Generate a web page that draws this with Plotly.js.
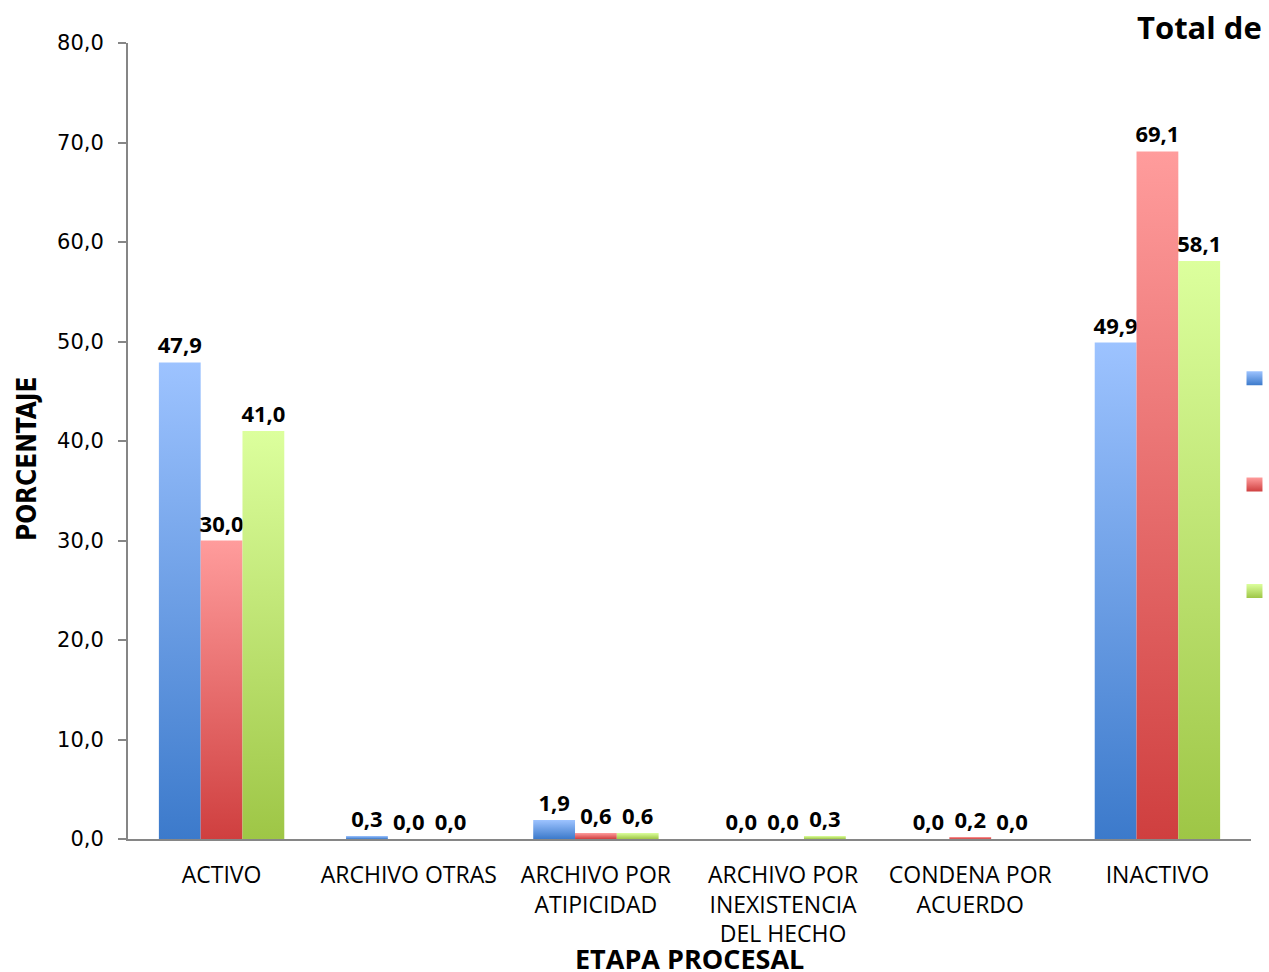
<!DOCTYPE html>
<html>
<head>
<meta charset="utf-8">
<script src="https://cdn.plot.ly/plotly-3.0.1.min.js"></script>
<style>html,body{margin:0;padding:0;background:#fff;overflow:hidden}#chart{width:1269px;height:972px}</style>
</head>
<body>
<div id="chart"></div>
<script>
const categories = ['ACTIVO','ARCHIVO OTRAS','ARCHIVO POR ATIPICIDAD','ARCHIVO POR INEXISTENCIA DEL HECHO','CONDENA POR ACUERDO','INACTIVO'];
const tickLabels = ['ACTIVO','ARCHIVO OTRAS','ARCHIVO POR<br>ATIPICIDAD','ARCHIVO POR<br>INEXISTENCIA<br>DEL HECHO','CONDENA POR<br>ACUERDO','INACTIVO'];
const seriesNames = ['Serie 1','Serie 2','Serie 3'];
const serie1 = [47.9, 0.3, 1.9, 0.0, 0.0, 49.9];
const serie2 = [30.0, 0.0, 0.6, 0.0, 0.2, 69.1];
const serie3 = [41.0, 0.0, 0.6, 0.3, 0.0, 58.1];
const yTicks = [0,10,20,30,40,50,60,70,80];

const colors = [
  {mid:'#6f9fe6', top:'#9dc3ff', bottom:'#3c7acb'},
  {mid:'#e87474', top:'#ff9c9c', bottom:'#cf3f3f'},
  {mid:'#c3e07a', top:'#dcff9d', bottom:'#9ec646'}
];
const FONT = 'Open Sans, Lato, sans-serif';
const allSeries = [serie1, serie2, serie3];

const data = allSeries.map((vals, i) => ({
  type: 'bar',
  name: seriesNames[i],
  x: categories,
  y: vals,
  marker: {color: colors[i].mid},
  texttemplate: '<b>%{y:.1f}</b>',
  textposition: 'outside',
  constraintext: 'none',
  cliponaxis: false,
  textfont: {family: FONT, size: 22, color: '#000'},
  legendgroup: 'g' + i,
  hoverinfo: 'x+y+name'
}));

const layout = {
  width: 1269, height: 972,
  margin: {l: 128, r: 18, t: 43, b: 133, autoexpand: false},
  paper_bgcolor: '#fff', plot_bgcolor: '#fff',
  separators: ',.',
  barmode: 'group',
  bargap: 0.33,
  bargroupgap: 0,
  font: {family: FONT, size: 20, color: '#000'},
  title: {
    text: '<b>Total de</b>',
    font: {family: FONT, size: 31, color: '#000'},
    xref: 'container', yref: 'container',
    x: 1137/1269, xanchor: 'left',
    y: 1 - 28/972, yanchor: 'middle'
  },
  xaxis: {
    type: 'category',
    tickvals: categories,
    ticktext: tickLabels,
    tickfont: {family: FONT, size: 23, color: '#000'},
    ticklabelstandoff: 14,
    showline: true, linecolor: '#868686', linewidth: 2,
    ticks: '', showgrid: false, zeroline: false,
    automargin: false
  },
  yaxis: {
    range: [0, 80],
    tickvals: yTicks,
    tickformat: '.1f',
    tickfont: {family: 'DejaVu Sans, sans-serif', size: 21, color: '#000'},
    ticklabelstandoff: 10,
    showline: true, linecolor: '#868686', linewidth: 2,
    ticks: 'outside', ticklen: 8, tickcolor: '#868686', tickwidth: 2,
    showgrid: false, zeroline: false,
    automargin: false
  },
  annotations: [{
    text: '<b>ETAPA PROCESAL</b>',
    xref: 'paper', yref: 'paper',
    x: 0.5, y: -(958 - 839) / 796,
    xanchor: 'center', yanchor: 'middle',
    showarrow: false,
    font: {family: FONT, size: 27, color: '#000'}
  }, {
    text: '<b>PORCENTAJE</b>',
    xref: 'paper', yref: 'paper',
    x: -(128 - 27) / 1123, y: (839 - 459) / 796,
    xanchor: 'center', yanchor: 'middle',
    textangle: -90,
    showarrow: false,
    font: {family: 'DejaVu Sans Condensed, Liberation Sans Narrow, Roboto Condensed, Open Sans, sans-serif', size: 26, color: '#000'}
  }],
  showlegend: true,
  legend: {
    x: 0.9853, xanchor: 'left',
    y: (839 - 360) / 796, yanchor: 'top',
    font: {family: FONT, size: 18, color: '#000'},
    tracegroupgap: 80,
    bgcolor: 'rgba(0,0,0,0)'
  }
};

function applyGradients(gd) {
  try {
    const ns = 'http://www.w3.org/2000/svg';
    const svg = gd.querySelector('svg.main-svg');
    let defs = svg.querySelector('defs');
    if (!defs) { defs = document.createElementNS(ns, 'defs'); svg.insertBefore(defs, svg.firstChild); }
    colors.forEach((c, i) => {
      const id = 'barGrad' + i;
      if (document.getElementById(id)) return;
      const lg = document.createElementNS(ns, 'linearGradient');
      lg.setAttribute('id', id);
      lg.setAttribute('x1', '0'); lg.setAttribute('y1', '0');
      lg.setAttribute('x2', '0'); lg.setAttribute('y2', '1');
      [[0, c.top], [1, c.bottom]].forEach(([o, col]) => {
        const s = document.createElementNS(ns, 'stop');
        s.setAttribute('offset', String(o));
        s.setAttribute('stop-color', col);
        lg.appendChild(s);
      });
      defs.appendChild(lg);
    });
    gd.querySelectorAll('g.trace.bars').forEach((t, i) => {
      t.querySelectorAll('path').forEach(p => { p.style.setProperty('fill', 'url(#barGrad' + i + ')'); });
    });
    gd.querySelectorAll('g.legend g.traces').forEach((t, i) => {
      t.querySelectorAll('.legendpoints path').forEach(p => {
        p.style.setProperty('fill', 'url(#barGrad' + i + ')');
        if (!p.hasAttribute('data-orig-tf')) {
          p.setAttribute('data-orig-tf', p.getAttribute('transform') || '');
        }
        p.setAttribute('transform', (p.getAttribute('data-orig-tf') + ' scale(1.33,1.17)').trim());
      });
    });
  } catch (e) { /* ignore */ }
}

const gd = document.getElementById('chart');
const pr = Plotly.newPlot(gd, data, layout, {displayModeBar: false});
applyGradients(gd);
pr.then(() => {
  applyGradients(gd);
  gd.on('plotly_afterplot', () => applyGradients(gd));
  setTimeout(() => applyGradients(gd), 50);
});
</script>
</body>
</html>
